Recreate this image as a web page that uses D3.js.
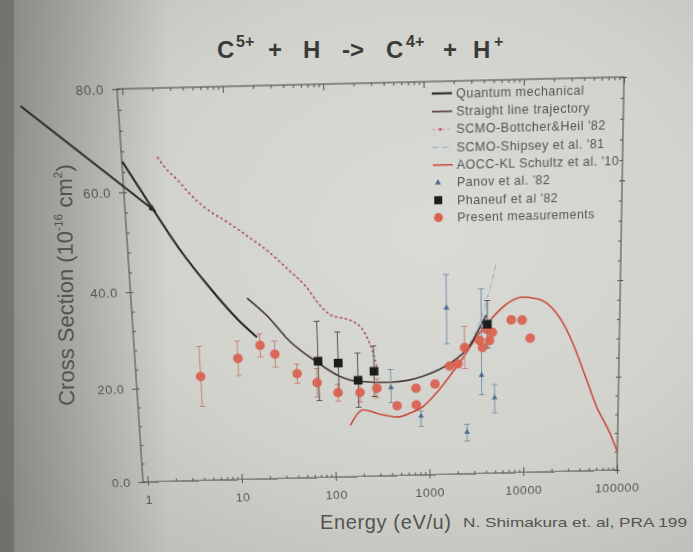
<!DOCTYPE html>
<html>
<head>
<meta charset="utf-8">
<script src="https://cdn.jsdelivr.net/npm/d3@7"></script>
<style>
  html, body { margin: 0; padding: 0; }
  body { width: 693px; height: 552px; position: relative; overflow: hidden; background: #cfd0ca; font-family: "Liberation Sans", Arial, sans-serif; }
  #bg { position: absolute; left: 0; top: 0; }
  #frame { position: absolute; left: 0; top: 0; transform-origin: 0 0; }
  #frame svg { overflow: visible; display: block; }
</style>
</head>
<body>
<svg id="bg" width="693" height="552"></svg>
<div id="frame"></div>
<script>
// Axis setup
const xDomain = [0.89, 100000];
const yDomain = [0, 80];
const xTickValues = [1, 10, 100, 1000, 10000, 100000];
const xTickLabels = ["1", "10", "100", "1000", "10000", "100000"];
const yTickValues = [0, 20, 40, 60, 80];
const yTickLabels = ["0.0", "20.0", "40.0", "60.0", "80.0"];

// Quantum mechanical
const qmEnergy = [0.9, 1.6, 3.0, 5.9, 11.5, 17];
const qmCross = [66.0, 57.5, 48.5, 40.4, 33.4, 30.1];

// Straight line trajectory
const slEnergy = [14, 22, 37, 70, 120, 180, 400, 880, 1330, 2000, 2740, 3480, 4100];
const slCross = [38.2, 34.5, 29.1, 24.6, 21.5, 20.4, 20.0, 21.1, 22.5, 24.6, 27.2, 30.8, 33.5];

// SCMO Bottcher & Heil '82
const bhEnergy = [2.06, 2.39, 3.11, 4.12, 6.0, 9.4, 14.9, 23.4, 39.4, 58, 78, 103, 134, 169, 209, 240, 269, 290, 298];
const bhCross = [66.6, 64.7, 62.3, 59.4, 56.3, 53.7, 50.8, 47.8, 43.5, 40.1, 36.4, 34.2, 33.6, 32.9, 31.4, 29.2, 26.4, 23.5, 22.0];

// SCMO Shipsey '81
const shEnergy = [2740, 3480, 4400, 5190];
const shCross = [27.7, 31.9, 38.2, 43.7];

// AOCC-KL Schultz '10
const aoccEnergy = [149, 182, 205, 308, 464, 640, 875, 1230, 1690, 2420, 3470, 4730, 6600, 9620, 14400, 19600, 27600, 35500, 45700, 59000, 82400, 100000];
const aoccCross = [11.1, 13.7, 14.3, 13.3, 12.6, 13.4, 14.7, 17.6, 21.0, 25.2, 29.8, 32.9, 35.6, 37.0, 36.5, 34.7, 30.4, 25.5, 19.7, 13.8, 8.1, 4.0];

// Panov '82 (asymmetric bars)
const panovEnergy = [407, 832, 1590, 2540, 3640, 4980];
const panovCross = [18.9, 12.7, 35.2, 9.0, 21.0, 16.2];
const panovLow = [15.7, 10.5, 27.8, 7.1, 16.9, 13.0];
const panovHigh = [22.7, 13.8, 42.0, 10.7, 38.9, 19.0];

// Phaneuf '82
const phEnergy = [71.6, 116, 185, 273, 4210];
const phCross = [24.8, 24.3, 20.6, 22.4, 31.6];
const phErr = [8.3, 6.5, 5.7, 5.3, 4.9];

// Present measurements
const pmEnergy = [4.2, 10.5, 18.1, 25.6, 42.8, 68.7, 113, 192, 290, 468, 745, 745, 1180, 1690, 2060, 2430, 3480, 3740, 4100, 4420, 4740, 7450, 9670, 11750];
const pmCross = [22.2, 25.8, 28.4, 26.5, 22.3, 20.3, 18.1, 18.0, 18.8, 15.0, 18.6, 15.1, 19.4, 23.1, 23.5, 26.9, 28.3, 26.8, 30.6, 28.2, 29.9, 32.4, 32.3, 28.5];
const pmErr = [6.3, 3.6, 2.4, 2.7, 2.0, 3.0, 1.8, 2.0, 2.0, 0, 0, 0, 0, 0, 0, 4.4, 0, 0, 0, 0, 0, 0, 0, 0];

// hand-drawn arrow on the slide (data coords)
const arrowEnergy = [0.095, 1.8];
const arrowCross = [77.2, 56.1];

const legendNames = ["Quantum mechanical", "Straight line trajectory", "SCMO-Bottcher&Heil '82",
  "SCMO-Shipsey et al. '81", "AOCC-KL Schultz et al. '10", "Panov et al. '82", "Phaneuf et al '82", "Present measurements"];

const font = "'Liberation Sans', Arial, sans-serif";
const axisColor = "#595a58";
const textColor = "#535452";

// ---------- background (photo of a slide) ----------
const bg = d3.select("#bg");
const defs = bg.append("defs");
const rg = defs.append("radialGradient").attr("id", "paper").attr("cx", "62%").attr("cy", "42%").attr("r", "78%");
rg.append("stop").attr("offset", "0%").attr("stop-color", "#dadbd6");
rg.append("stop").attr("offset", "55%").attr("stop-color", "#d1d2cc");
rg.append("stop").attr("offset", "100%").attr("stop-color", "#b9bab4");
const lg = defs.append("linearGradient").attr("id", "shade").attr("x1", 0).attr("x2", 1).attr("y1", 0).attr("y2", 0);
lg.append("stop").attr("offset", "0%").attr("stop-color", "#3c3d38").attr("stop-opacity", 0.42);
lg.append("stop").attr("offset", "100%").attr("stop-color", "#3c3d38").attr("stop-opacity", 0);

bg.append("rect").attr("width", 693).attr("height", 552).attr("fill", "url(#paper)");
bg.append("rect").attr("width", 170).attr("height", 552).attr("fill", "url(#shade)");
bg.append("rect").attr("width", 14).attr("height", 552).attr("fill", "#4a4b46").attr("opacity", 0.35);

// title, pieces placed as on the slide
const titleParts = [
  { t: "C", x: 217, sup: false }, { t: "5+", x: 236, sup: true }, { t: "+", x: 268, sup: false },
  { t: "H", x: 303, sup: false }, { t: "->", x: 342, sup: false }, { t: "C", x: 386, sup: false },
  { t: "4+", x: 406, sup: true }, { t: "+", x: 443, sup: false }, { t: "H", x: 473, sup: false },
  { t: "+", x: 494, sup: true }
];
const title = bg.append("text")
  .attr("font-family", font).attr("font-weight", "bold").attr("fill", "#3a3b39");
titleParts.forEach(p => {
  title.append("tspan").attr("x", p.x).attr("y", p.sup ? 47 : 58)
    .attr("font-size", p.sup ? 16 : 24).text(p.t);
});

// axis titles
const yt = bg.append("text").attr("transform", "translate(73,285) rotate(-90.6)")
  .attr("text-anchor", "middle").attr("font-family", font).attr("font-size", 22).attr("fill", textColor);
yt.append("tspan").text("Cross Section (10");
yt.append("tspan").attr("dy", -10).attr("font-size", 12).text("-16");
yt.append("tspan").attr("dy", 10).text(" cm");
yt.append("tspan").attr("dy", -10).attr("font-size", 12).text("2");
yt.append("tspan").attr("dy", 10).text(")");

bg.append("text").attr("x", 320).attr("y", 529).attr("font-family", font).attr("font-size", 20)
  .attr("fill", textColor).attr("textLength", 131).attr("lengthAdjust", "spacing").text("Energy (eV/u)");
bg.append("text").attr("x", 463).attr("y", 527).attr("font-family", font).attr("font-size", 13.5)
  .attr("fill", textColor).attr("textLength", 224).attr("lengthAdjust", "spacingAndGlyphs").text("N. Shimakura et. al, PRA 199");

// ---------- plot frame, warped to the photo's perspective ----------
const W = 500, H = 400;
const corners = [[117, 89], [624, 77], [617, 470], [143, 482]]; // TL, TR, BR, BL of plot box

function quadMatrix(w, h, q) {
  const [[x0, y0], [x1, y1], [x2, y2], [x3, y3]] = q;
  const dx1 = x1 - x2, dx2 = x3 - x2, dx3 = x0 - x1 + x2 - x3;
  const dy1 = y1 - y2, dy2 = y3 - y2, dy3 = y0 - y1 + y2 - y3;
  const den = dx1 * dy2 - dx2 * dy1;
  const g = (dx3 * dy2 - dx2 * dy3) / den;
  const hh = (dx1 * dy3 - dx3 * dy1) / den;
  const a = x1 - x0 + g * x1, b = x3 - x0 + hh * x3;
  const d = y1 - y0 + g * y1, e = y3 - y0 + hh * y3;
  return [a / w, d / w, 0, g / w, b / h, e / h, 0, hh / h, 0, 0, 1, 0, x0, y0, 0, 1];
}

const frame = d3.select("#frame")
  .style("width", W + "px").style("height", H + "px")
  .style("transform", "matrix3d(" + quadMatrix(W, H, corners).join(",") + ")");

const svg = frame.append("svg").attr("width", W).attr("height", H);
const g = svg.append("g");

const x = d3.scaleLog().domain(xDomain).range([0, W]);
const y = d3.scaleLinear().domain(yDomain).range([H, 0]);

// minor ticks
const xMinor = [];
for (let p = 0; p < 5; p++) for (let k = 2; k <= 9; k++) xMinor.push(k * Math.pow(10, p));
const yMinor = d3.range(yDomain[0], yDomain[1] + 1, 4);

function tickAxis(axis, values, size, tr) {
  g.append("g").attr("class", "ax").attr("transform", tr)
    .call(axis.tickValues(values).tickFormat("").tickSizeInner(size).tickSizeOuter(0));
}
tickAxis(d3.axisBottom(x), xMinor, -3, `translate(0,${H})`);
tickAxis(d3.axisBottom(x), xTickValues, -6, `translate(0,${H})`);
tickAxis(d3.axisTop(x), xMinor, -3, "translate(0,0)");
tickAxis(d3.axisTop(x), xTickValues, -6, "translate(0,0)");
tickAxis(d3.axisLeft(y), yMinor, -3, "translate(0,0)");
tickAxis(d3.axisRight(y), yMinor, -3, `translate(${W},0)`);
tickAxis(d3.axisRight(y), yTickValues, 3, `translate(${W},0)`);

g.append("g").attr("class", "ax lab").attr("transform", `translate(0,${H})`)
  .call(d3.axisBottom(x).tickValues(xTickValues).tickFormat((d, i) => xTickLabels[i]).tickSizeInner(4).tickSizeOuter(0).tickPadding(11));
g.append("g").attr("class", "ax lab")
  .call(d3.axisLeft(y).tickValues(yTickValues).tickFormat((d, i) => yTickLabels[i]).tickSizeInner(5).tickSizeOuter(0).tickPadding(8));

g.selectAll(".ax .domain").remove();
g.selectAll(".ax line").attr("stroke", axisColor).attr("stroke-width", 1.1);
g.selectAll(".lab text").attr("font-family", font).attr("font-size", 13)
  .attr("letter-spacing", 0.6).attr("fill", textColor);

g.append("rect").attr("width", W).attr("height", H).attr("fill", "none")
  .attr("stroke", axisColor).attr("stroke-width", 1.2);

// ---------- curves ----------
const line = d3.line().x(d => x(d[0])).y(d => y(d[1])).curve(d3.curveMonotoneX);

g.append("path").datum(d3.zip(aoccEnergy, aoccCross)).attr("d", line)
  .attr("fill", "none").attr("stroke", "#c9473a").attr("stroke-width", 1.6);
g.append("path").datum(d3.zip(shEnergy, shCross)).attr("d", line)
  .attr("fill", "none").attr("stroke", "#8fa6b9").attr("stroke-width", 1).attr("stroke-dasharray", "5,2,1,2");
g.append("path").datum(d3.zip(slEnergy, slCross)).attr("d", line)
  .attr("fill", "none").attr("stroke", "#473436").attr("stroke-width", 1.7);
g.append("path").datum(d3.zip(qmEnergy, qmCross)).attr("d", line)
  .attr("fill", "none").attr("stroke", "#262626").attr("stroke-width", 2.1);
g.append("path").datum(d3.zip(bhEnergy, bhCross)).attr("d", line)
  .attr("fill", "none").attr("stroke", "#d495aa").attr("stroke-width", 0.9).attr("stroke-dasharray", "3,2");
g.append("path").datum(d3.zip(bhEnergy, bhCross)).attr("d", line)
  .attr("fill", "none").attr("stroke", "#9e4468").attr("stroke-width", 2)
  .attr("stroke-linecap", "round").attr("stroke-dasharray", "0.1,5");

// arrow drawn on the slide
svg.append("defs").append("marker").attr("id", "head").attr("viewBox", "0 0 10 10")
  .attr("refX", 8).attr("refY", 5).attr("markerWidth", 4).attr("markerHeight", 4).attr("orient", "auto")
  .append("path").attr("d", "M0,1L10,5L0,9Z").attr("fill", "#2a2a2a");
g.append("path").datum(d3.zip(arrowEnergy, arrowCross))
  .attr("d", d3.line().x(d => x(d[0])).y(d => y(d[1])))
  .attr("stroke", "#2a2a2a").attr("stroke-width", 2).attr("marker-end", "url(#head)");

// ---------- error bars & markers ----------
function errBars(xs, lo, hi, color) {
  const eb = g.append("g").attr("stroke", color).attr("stroke-width", 1).attr("fill", "none");
  xs.forEach((e, i) => {
    if (hi[i] - lo[i] <= 0) return;
    const px = x(e);
    eb.append("line").attr("x1", px).attr("x2", px).attr("y1", y(lo[i])).attr("y2", y(hi[i]));
    [lo[i], hi[i]].forEach(v => eb.append("line").attr("x1", px - 3).attr("x2", px + 3).attr("y1", y(v)).attr("y2", y(v)));
  });
}

errBars(pmEnergy, pmCross.map((c, i) => c - pmErr[i]), pmCross.map((c, i) => c + pmErr[i]), "#c58272");
errBars(phEnergy, phCross.map((c, i) => c - phErr[i]), phCross.map((c, i) => c + phErr[i]), "#505050");
errBars(panovEnergy, panovLow, panovHigh, "#7890a6");

g.append("g").selectAll("circle").data(d3.zip(pmEnergy, pmCross)).join("circle")
  .attr("cx", d => x(d[0])).attr("cy", d => y(d[1])).attr("r", 5)
  .attr("fill", "#d95f4e").attr("fill-opacity", 0.92);
g.append("g").selectAll("rect").data(d3.zip(phEnergy, phCross)).join("rect")
  .attr("x", d => x(d[0]) - 4.5).attr("y", d => y(d[1]) - 4.5).attr("width", 9).attr("height", 9)
  .attr("fill", "#1c1c1c");
const tri = d3.symbol().type(d3.symbolTriangle).size(16);
g.append("g").selectAll("path").data(d3.zip(panovEnergy, panovCross)).join("path")
  .attr("transform", d => `translate(${x(d[0])},${y(d[1])})`).attr("d", tri).attr("fill", "#4c6b90");

// ---------- legend ----------
const legX = 310, legTextX = 334, legY0 = 11.5, legStep = 17.3;
const leg = g.append("g");
legendNames.forEach((name, i) => {
  const ly = legY0 + i * legStep;
  const row = leg.append("g").attr("transform", `translate(0,${ly})`);
  if (i === 0) row.append("line").attr("x1", legX).attr("x2", legX + 20).attr("stroke", "#262626").attr("stroke-width", 2);
  if (i === 1) row.append("line").attr("x1", legX).attr("x2", legX + 20).attr("stroke", "#5a3436").attr("stroke-width", 1.5);
  if (i === 2) {
    row.append("line").attr("x1", legX).attr("x2", legX + 20).attr("stroke", "#d495aa").attr("stroke-dasharray", "3,2");
    row.append("circle").attr("cx", legX + 8).attr("r", 1.3).attr("fill", "#9e4468");
  }
  if (i === 3) row.append("line").attr("x1", legX).attr("x2", legX + 20).attr("stroke", "#8fa6b9").attr("stroke-dasharray", "5,2,1,2");
  if (i === 4) row.append("line").attr("x1", legX).attr("x2", legX + 20).attr("stroke", "#c9473a").attr("stroke-width", 1.5);
  if (i === 5) row.append("path").attr("transform", `translate(${legX + 5},0)`).attr("d", tri).attr("fill", "#4c6b90");
  if (i === 6) row.append("rect").attr("x", legX + 1).attr("y", -4).attr("width", 8).attr("height", 8).attr("fill", "#1c1c1c");
  if (i === 7) row.append("circle").attr("cx", legX + 5).attr("r", 4.5).attr("fill", "#d95f4e");
  row.append("text").attr("x", legTextX).attr("dy", "0.35em").attr("font-family", font)
    .attr("font-size", 12.5).attr("letter-spacing", 0.5).attr("fill", textColor).text(name);
});
</script>
</body>
</html>
